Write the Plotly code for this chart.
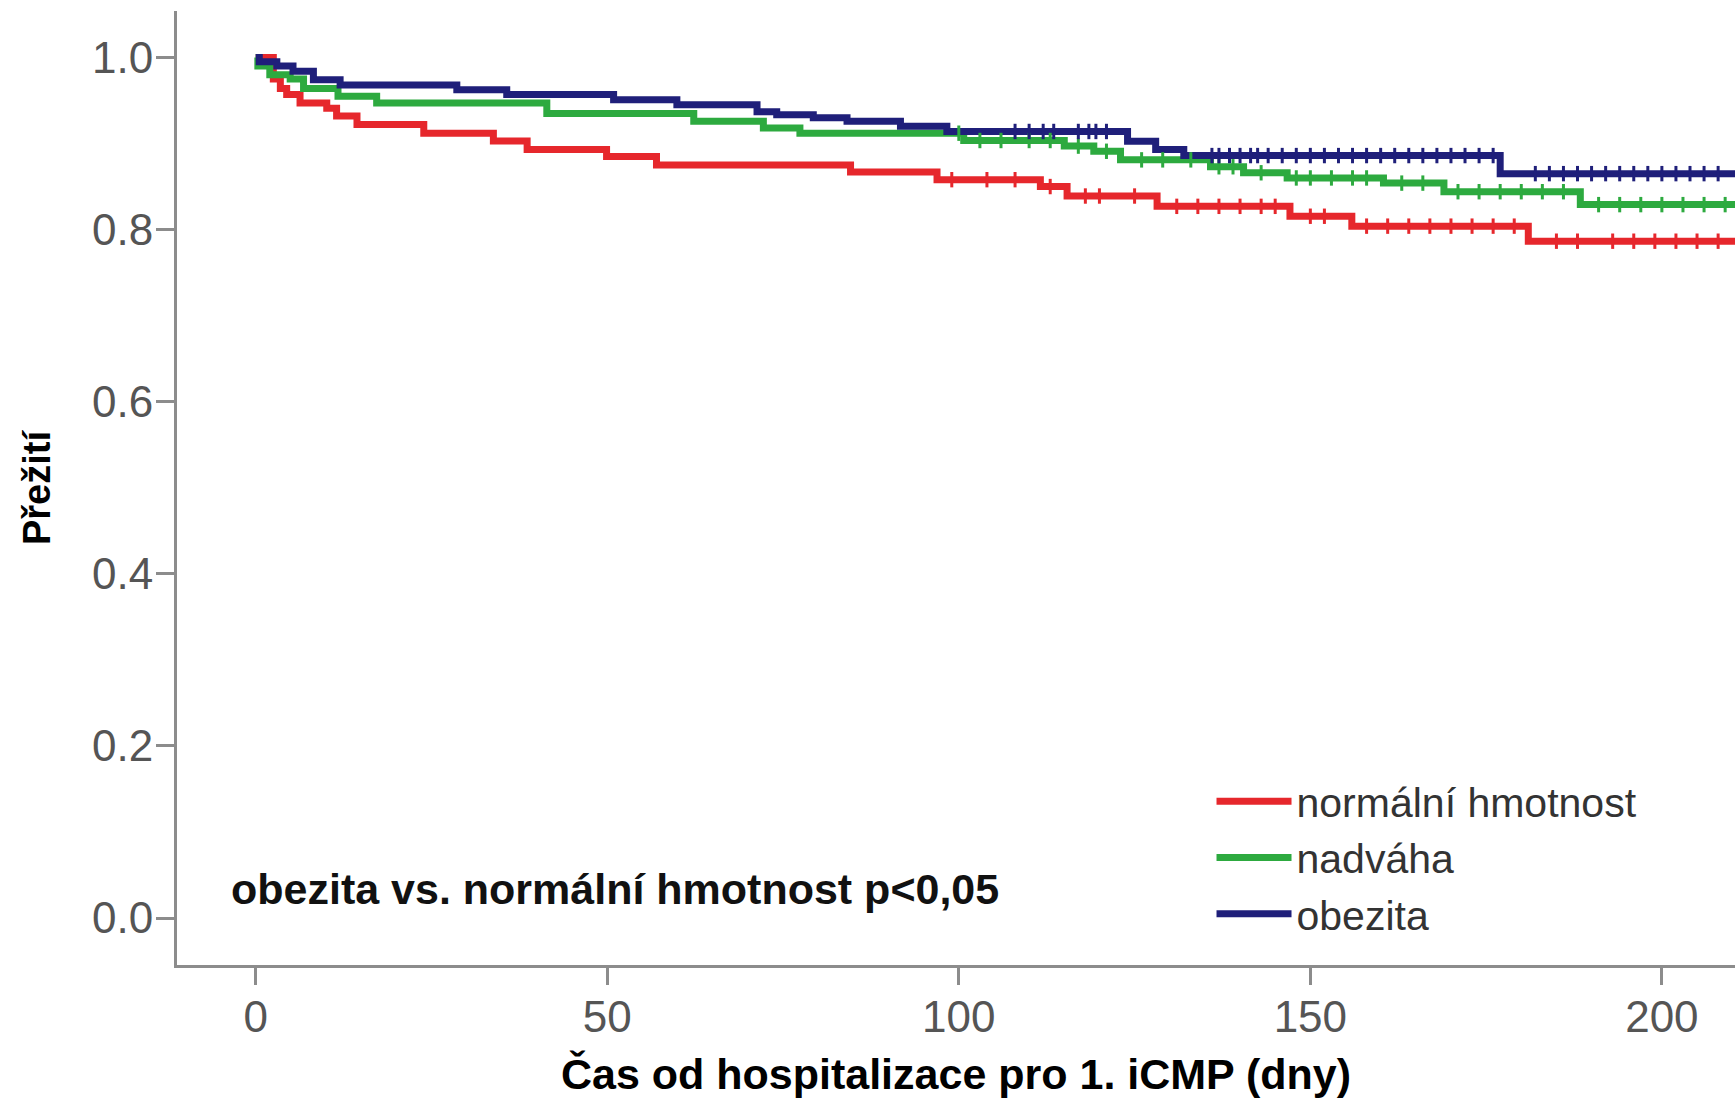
import numpy as np
import plotly.graph_objects as go

# ---- data ----
groups = ["normální hmotnost", "nadváha", "obezita"]
colors = ["#E6272C", "#2DAA3F", "#1F1F7A"]

t_normal = [0, 2.5, 3.5, 4.4, 6.3, 10.1, 11.5, 14.4, 23.9, 33.8, 38.6, 49.9, 57.0, 84.6, 96.9,
            111.6, 115.4, 128.2, 147.1, 155.9, 181.0, 213]
s_normal = [1.0, 0.975, 0.964, 0.957, 0.947, 0.941, 0.932, 0.922, 0.912, 0.903, 0.893, 0.885, 0.875, 0.867, 0.858,
            0.850, 0.839, 0.827, 0.8155, 0.804, 0.7865, 0.7865]

t_nadvaha = [0, 0.3, 2.0, 4.9, 6.8, 11.7, 17.2, 41.4, 62.3, 72.2, 77.4, 100.7, 115.0, 119.2, 123.0,
             135.8, 140.5, 146.7, 160.4, 169.0, 188.4, 213]
s_nadvaha = [1.0, 0.99, 0.98, 0.975, 0.964, 0.955, 0.947, 0.935, 0.926, 0.918, 0.912, 0.9035, 0.897, 0.891, 0.881,
             0.873, 0.866, 0.86, 0.854, 0.844, 0.829, 0.829]

t_obezita = [0, 0.5, 3.0, 5.3, 8.2, 12.0, 28.6, 35.7, 50.9, 59.9, 71.3, 74.1, 79.3, 84.1, 91.7, 98.3,
             124.0, 128.0, 132.0, 177.0, 213]
s_obezita = [1.0, 0.995, 0.99, 0.984, 0.974, 0.968, 0.9625, 0.957, 0.951, 0.945, 0.937, 0.9335, 0.93, 0.926, 0.92, 0.914,
             0.9025, 0.893, 0.886, 0.865, 0.865]

# censoring times (approximate)
c_normal = [99, 104, 108, 113, 118, 120, 125, 131, 134, 137, 140, 143, 145, 150, 152, 158, 161, 164, 167,
            170, 173, 176, 179, 185, 188, 193, 196, 199, 202, 205, 208]
c_nadvaha = [100, 103, 106, 110, 113, 117, 121, 126, 129, 133, 137, 139, 143, 148, 150, 153, 156, 158, 163,
             166, 171, 174, 177, 180, 183, 186, 191, 194, 197, 200, 203, 206, 209]
c_obezita = [108, 110, 112, 113.5, 117, 118.5, 119.5, 121, 136, 137, 138.5, 140, 141.5, 142.5, 144, 146, 148,
             150, 152, 154, 156, 158, 160, 162, 164, 166, 168, 170, 172, 174, 176, 182, 184, 186, 188, 190,
             192, 194, 196, 198, 200, 202, 204, 206, 208]

x_ticks = [0, 50, 100, 150, 200]
y_ticks = [0.0, 0.2, 0.4, 0.6, 0.8, 1.0]
y_tick_text = ["0.0", "0.2", "0.4", "0.6", "0.8", "1.0"]

x_title = "Čas od hospitalizace pro 1. iCMP (dny)"
y_title = "Přežití"
note = "obezita vs. normální hmotnost p<0,05"

FONT = "Liberation Sans, Arial, sans-serif"

fig = go.Figure()
series = [(t_normal, s_normal, c_normal), (t_nadvaha, s_nadvaha, c_nadvaha), (t_obezita, s_obezita, c_obezita)]
for name, col, (t, s, c) in zip(groups, colors, series):
    fig.add_trace(go.Scatter(x=t, y=s, mode="lines", name=name,
                             line=dict(color=col, width=7, shape="hv")))
for name, col, (t, s, c) in zip(groups, colors, series):
    idx = np.searchsorted(np.array(t), np.array(c), side="right") - 1
    cy = np.array(s)[idx]
    fig.add_trace(go.Scatter(x=c, y=cy, mode="markers", showlegend=False, hoverinfo="skip",
                             marker=dict(symbol="line-ns", size=11, color=col,
                                         line=dict(color=col, width=3))))

axis_common = dict(showline=True, linecolor="#8c8c8c", linewidth=3, showgrid=False, zeroline=False,
                   ticks="outside", tickcolor="#8c8c8c", tickwidth=3, ticklabelstandoff=-6,
                   tickfont=dict(family=FONT, size=44, color="#555555"))

fig.update_layout(
    width=1735, height=1099,
    margin=dict(l=177, r=0, t=11, b=134),
    paper_bgcolor="white", plot_bgcolor="white",
    xaxis=dict(range=[-11.2, 210.4], tickvals=x_ticks, ticklen=17,
               title=dict(text=x_title, font=dict(family=FONT, size=43, color="#000000", weight="bold"),
                          standoff=20),
               **axis_common),
    yaxis=dict(range=[-0.0546, 1.054], tickvals=y_ticks, ticktext=y_tick_text, ticklen=18,
               title=dict(text=y_title, font=dict(family=FONT, size=38, color="#000000", weight="bold"),
                          standoff=30),
               **axis_common),
    legend=dict(x=0.664, y=0.2065, xanchor="left", yanchor="top",
                font=dict(family=FONT, size=41, color="#333333"),
                bgcolor="rgba(0,0,0,0)", itemwidth=75, tracegroupgap=0),
    showlegend=True,
)

fig.add_annotation(text=note, xref="paper", yref="paper", x=0.0334, y=0.0797,
                   xanchor="left", yanchor="middle", showarrow=False,
                   font=dict(family=FONT, size=43, color="#111111", weight="bold"))

fig.write_html("out.html")
